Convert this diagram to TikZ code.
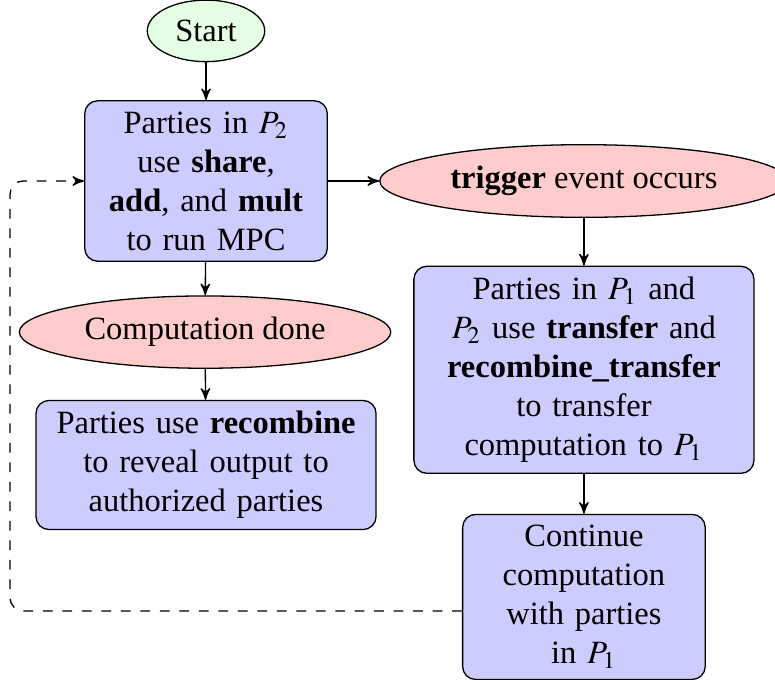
\documentclass[tikz,border=0pt]{standalone}
\usepackage{mathptmx}
\usepackage{fontspec}
\setmainfont{Liberation Serif}
\usetikzlibrary{shapes}
\usetikzlibrary{arrows}
\tikzset{
	block/.style = {
		rectangle,
		rounded corners,
		align=center,
		text centered,
		draw=black,
		fill=blue!20,
		text width=68pt,
		inner sep=3.33pt
	},
	block_wide/.style = {
		block,
		text width=98pt
	},
	event/.style = {
		ellipse,
		align=center,
		draw=black,
		fill=red!20
	},
	node_start/.style = {
		event,
		fill=green!10
	},
	line_back/.style = {
		dashed,
		rounded corners
	},
}

\begin{document}
\begin{tikzpicture}[->,>=stealth',x=1pt,y=1pt]
\useasboundingbox (0,0) rectangle (238.5,-209.2);
\node [node_start] (start) at (63.4,-9.5) {Start};
\node [block] (run) at (63.4,-55.7) {Parties in $P_2$\\ use \textbf{share},\\ \textbf{add}, and \textbf{mult}\\ to run MPC};
\node [event] (trigger) at (179.7,-55.7) {\textbf{trigger} event occurs};
\node [event] (done) at (63.1,-102.2) {Computation done};
\node [block_wide] (reveal) at (63.4,-143.1) {Parties use \textbf{recombine}\\ to reveal output to\\ authorized parties};
\node [block_wide] (transfer) at (179.7,-113.8) {Parties in $P_1$ and\\ $P_2$ use \textbf{transfer} and\\ \textbf{recombine\_transfer}\\ to transfer\\ computation to $P_1$};
\node [block] (cont) at (179.7,-183.7) {Continue\\ computation\\ with parties\\ in $P_1$};
\coordinate (back) at (3.1,-188);

\draw (start) -- (run);
\draw (run) -- (trigger);
\draw (run) -- (done);
\draw (done) -- (reveal);
\draw (trigger) -- (transfer);
\draw (transfer) -- (cont);
\draw [line_back] (cont.west |- back) -- (back) |- (run.west);
\end{tikzpicture}
\end{document}
